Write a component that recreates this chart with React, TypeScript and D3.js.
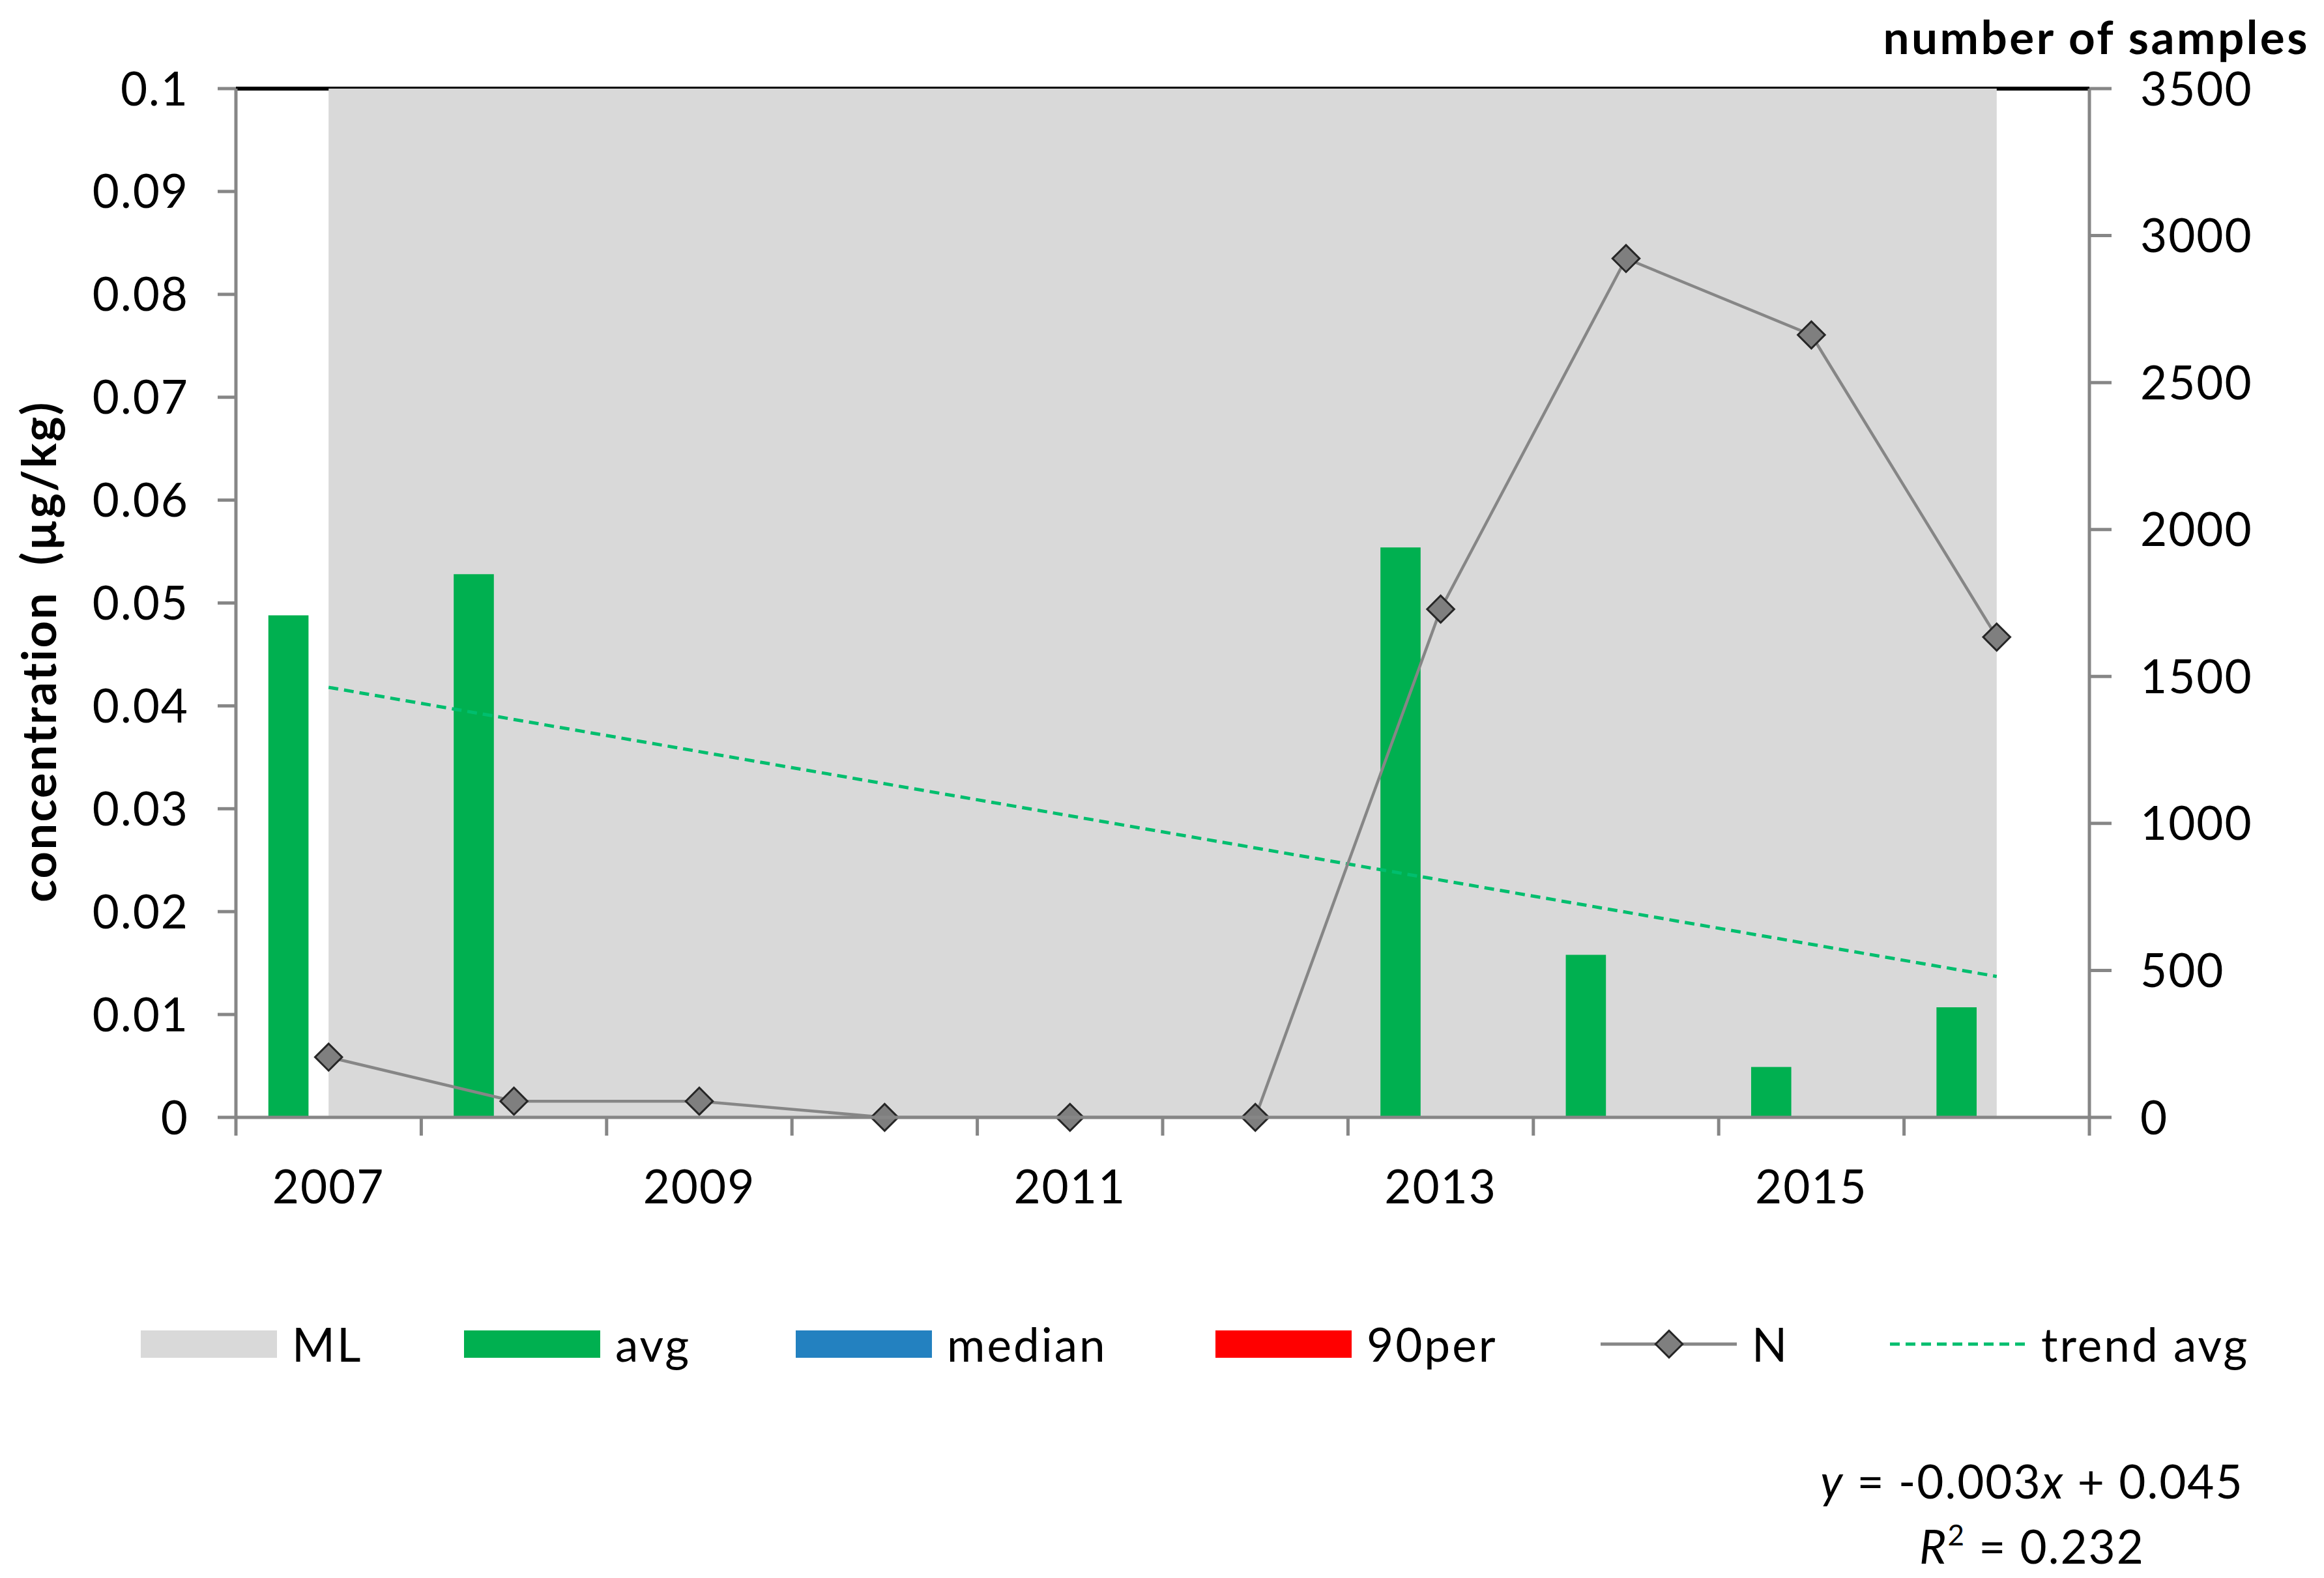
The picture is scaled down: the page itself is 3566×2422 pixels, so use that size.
import { useEffect, useRef } from 'react';
import * as d3 from 'd3';

// chart data
const years = ['2007', '2008', '2009', '2010', '2011', '2012', '2013', '2014', '2015', '2016'];
const mlValues = [0.1, 0.1, 0.1, 0.1, 0.1, 0.1, 0.1, 0.1, 0.1, 0.1];
const avgValues = [0.0488, 0.0528, 0, 0, 0, 0, 0.0554, 0.0158, 0.0049, 0.0107];
const medianValues = [0, 0, 0, 0, 0, 0, 0, 0, 0, 0];
const per90Values = [0, 0, 0, 0, 0, 0, 0, 0, 0, 0];
const nValues = [205, 55, 55, 0, 0, 0, 1729, 2922, 2662, 1634];
// linear trend of avg, value at first and last year
const trendYears = ['2007', '2016'];
const trendValues = [0.0418, 0.0137];

const leftTicks = [0, 0.01, 0.02, 0.03, 0.04, 0.05, 0.06, 0.07, 0.08, 0.09, 0.1];
const rightTicks = [0, 500, 1000, 1500, 2000, 2500, 3000, 3500];
const labelledYears = ['2007', '2009', '2011', '2013', '2015'];
const barSeries = ['avg', 'median', '90per'];
const legendLabels = ['ML', 'avg', 'median', '90per', 'N', 'trend avg'];

const COLORS: Record<string, string> = {
  ML: '#d9d9d9',
  avg: '#00b050',
  median: '#2381c0',
  '90per': '#ff0000',
  N: '#868686',
  trend: '#00be6e',
};

const FONT = 'Lato, "Open Sans", sans-serif';

export default function App() {
  const svgRef = useRef<SVGSVGElement>(null);
  const width = 3566;
  const height = 2422;

  useEffect(() => {
    if (!svgRef.current) return;
    const svg = d3.select(svgRef.current);
    svg.selectAll('*').remove();

    const plot = { left: 362, right: 3206, top: 136, bottom: 1715 };
    const axisColor = '#868686';

    svg.append('rect').attr('width', width).attr('height', height).attr('fill', '#fff');

    const x0 = d3.scaleBand<string>()
      .domain(years)
      .range([plot.left, plot.right])
      .paddingInner(0.35)
      .paddingOuter(0.175);
    const step = x0.step();
    const center = (y: string) => (x0(y) ?? 0) + x0.bandwidth() / 2;
    const x1 = d3.scaleBand<string>().domain(barSeries).range([0, x0.bandwidth()]);

    const yL = d3.scaleLinear().domain([0, 0.1]).range([plot.bottom, plot.top]);
    const yR = d3.scaleLinear().domain([0, 3500]).range([plot.bottom, plot.top]);

    // top border line
    svg.append('line')
      .attr('x1', plot.left).attr('x2', plot.right)
      .attr('y1', plot.top).attr('y2', plot.top)
      .attr('stroke', '#000').attr('stroke-width', 6);

    // ML area
    const area = d3.area<number>()
      .x((_, i) => center(years[i]))
      .y0(yL(0))
      .y1(d => yL(d));
    svg.append('path')
      .datum(mlValues)
      .attr('d', area)
      .attr('fill', COLORS.ML);

    // bars
    const barData = [avgValues, medianValues, per90Values];
    barSeries.forEach((s, si) => {
      svg.append('g')
        .selectAll('rect')
        .data(barData[si])
        .join('rect')
        .attr('x', (_, i) => (x0(years[i]) ?? 0) + (x1(s) ?? 0))
        .attr('width', x1.bandwidth())
        .attr('y', d => yL(d))
        .attr('height', d => yL(0) - yL(d))
        .attr('fill', COLORS[s]);
    });

    // trend line
    svg.append('line')
      .attr('x1', center(trendYears[0])).attr('y1', yL(trendValues[0]))
      .attr('x2', center(trendYears[1])).attr('y2', yL(trendValues[1]))
      .attr('stroke', COLORS.trend)
      .attr('stroke-width', 5)
      .attr('stroke-dasharray', '15 9');

    // N line
    const line = d3.line<number>()
      .x((_, i) => center(years[i]))
      .y(d => yR(d));
    svg.append('path')
      .datum(nValues)
      .attr('d', line)
      .attr('fill', 'none')
      .attr('stroke', COLORS.N)
      .attr('stroke-width', 4.5);

    const diamond = d3.symbol(d3.symbolSquare, 860);
    svg.append('g')
      .selectAll('path')
      .data(nValues)
      .join('path')
      .attr('d', diamond)
      .attr('transform', (d, i) => `translate(${center(years[i])},${yR(d)}) rotate(45)`)
      .attr('fill', '#7f7f7f')
      .attr('stroke', '#262626')
      .attr('stroke-width', 3);

    // axes
    const axisG = svg.append('g').attr('stroke', axisColor).attr('stroke-width', 5);
    axisG.append('line').attr('x1', plot.left).attr('x2', plot.left).attr('y1', plot.top).attr('y2', plot.bottom);
    axisG.append('line').attr('x1', plot.right).attr('x2', plot.right).attr('y1', plot.top).attr('y2', plot.bottom);
    axisG.append('line').attr('x1', plot.left).attr('x2', plot.right).attr('y1', plot.bottom).attr('y2', plot.bottom);
    leftTicks.forEach(t => {
      axisG.append('line').attr('x1', plot.left - 28).attr('x2', plot.left).attr('y1', yL(t)).attr('y2', yL(t));
    });
    rightTicks.forEach(t => {
      axisG.append('line').attr('x1', plot.right).attr('x2', plot.right + 34).attr('y1', yR(t)).attr('y2', yR(t));
    });
    d3.range(years.length + 1).forEach(i => {
      const xx = plot.left + i * step;
      axisG.append('line').attr('x1', xx).attr('x2', xx).attr('y1', plot.bottom).attr('y2', plot.bottom + 28);
    });

    const text = svg.append('g')
      .attr('font-family', FONT)
      .attr('fill', '#000')
      .attr('letter-spacing', 2);

    leftTicks.forEach(t => {
      text.append('text')
        .attr('x', 290).attr('y', yL(t)).attr('dy', '0.36em')
        .attr('text-anchor', 'end').attr('font-size', 71)
        .text(d3.format('')(+t.toFixed(2)));
    });
    rightTicks.forEach(t => {
      text.append('text')
        .attr('x', 3284).attr('y', yR(t)).attr('dy', '0.36em')
        .attr('font-size', 71)
        .text(t);
    });
    labelledYears.forEach(y => {
      text.append('text')
        .attr('x', center(y)).attr('y', 1847)
        .attr('text-anchor', 'middle').attr('font-size', 71)
        .text(y);
    });

    text.append('text')
      .attr('transform', 'translate(86,1000) rotate(-90)')
      .attr('text-anchor', 'middle')
      .attr('font-size', 72).attr('font-weight', 700)
      .attr('xml:space', 'preserve')
      .attr('letter-spacing', 2.5)
      .text('concentration  (µg/kg)');

    text.append('text')
      .attr('x', 3544).attr('y', 83)
      .attr('text-anchor', 'end')
      .attr('font-size', 71).attr('font-weight', 700)
      .attr('letter-spacing', 3.5)
      .text('number of samples');

    // legend
    const legendX = [216, 712, 1221, 1865, 2456, 2900];
    const legendMid = 2063;
    legendLabels.forEach((label, i) => {
      const lx = legendX[i];
      if (label === 'N') {
        text.append('line')
          .attr('x1', lx).attr('x2', lx + 209).attr('y1', legendMid).attr('y2', legendMid)
          .attr('stroke', COLORS.N).attr('stroke-width', 5);
        text.append('path')
          .attr('d', diamond)
          .attr('transform', `translate(${lx + 105},${legendMid}) rotate(45)`)
          .attr('fill', '#7f7f7f').attr('stroke', '#262626').attr('stroke-width', 3);
      } else if (label === 'trend avg') {
        text.append('line')
          .attr('x1', lx).attr('x2', lx + 216).attr('y1', legendMid).attr('y2', legendMid)
          .attr('stroke', COLORS.trend).attr('stroke-width', 5).attr('stroke-dasharray', '15 9');
      } else {
        text.append('rect')
          .attr('x', lx).attr('y', legendMid - 21).attr('width', 209).attr('height', 42)
          .attr('fill', COLORS[label]);
      }
      text.append('text')
        .attr('x', lx + 232).attr('y', 2090)
        .attr('font-size', 71)
        .attr('letter-spacing', 3)
        .text(label);
    });

    // trendline equation
    const eq = text.append('text')
      .attr('x', 3118).attr('y', 2300)
      .attr('text-anchor', 'middle').attr('font-size', 71);
    eq.append('tspan').attr('font-style', 'italic').text('y');
    eq.append('tspan').text(' = -0.003');
    eq.append('tspan').attr('font-style', 'italic').text('x');
    eq.append('tspan').text(' + 0.045');

    const r2 = text.append('text')
      .attr('x', 3118).attr('y', 2400)
      .attr('text-anchor', 'middle').attr('font-size', 71);
    r2.append('tspan').attr('font-style', 'italic').text('R');
    r2.append('tspan').attr('font-size', 44).attr('dy', -28).text('2');
    r2.append('tspan').attr('dy', 28).text(' = 0.232');
  }, []);

  return (
    <svg
      ref={svgRef}
      width={width}
      height={height}
      style={{ position: 'absolute', left: 0, top: 0, display: 'block' }}
    />
  );
}
